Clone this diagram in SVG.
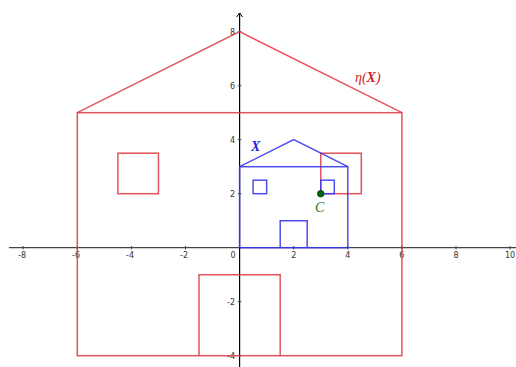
<svg xmlns="http://www.w3.org/2000/svg" width="516" height="367" viewBox="0 0 516 367">
<defs>
<style>
.ax{stroke:#000;stroke-width:1.2;fill:none}
.xax{stroke:#444;stroke-width:1.2;fill:none}
.tick{stroke:#444;stroke-width:1}
.tl{font-family:"DejaVu Sans",sans-serif;font-size:8px;fill:#333}
.red{stroke:#e0353f;stroke-opacity:0.85;stroke-width:1.5;fill:none}
.blue{stroke:#3a3aec;stroke-opacity:0.9;stroke-width:1.5;fill:none}
.lbl{font-family:"Liberation Serif",serif;font-style:italic;font-size:14px}
</style>
<marker id="arr" markerWidth="8" markerHeight="8" refX="4" refY="4" orient="auto" markerUnits="userSpaceOnUse">
<path d="M0,1 L4,4 L0,7" fill="none" stroke="#000" stroke-width="1"/>
</marker>
</defs>
<rect width="516" height="367" fill="#fff"/>
<g id="axes">
<line class="xax" x1="9" y1="247.7" x2="516" y2="247.7"/>
<line class="ax" x1="239.6" y1="367" x2="239.6" y2="13" marker-end="url(#arr)"/>
<g class="tick">
<line x1="23.2" y1="246" x2="23.2" y2="249.5"/>
<line x1="77.3" y1="246" x2="77.3" y2="249.5"/>
<line x1="131.4" y1="246" x2="131.4" y2="249.5"/>
<line x1="185.5" y1="246" x2="185.5" y2="249.5"/>
<line x1="293.7" y1="246" x2="293.7" y2="249.5"/>
<line x1="347.8" y1="246" x2="347.8" y2="249.5"/>
<line x1="401.9" y1="246" x2="401.9" y2="249.5"/>
<line x1="456" y1="246" x2="456" y2="249.5"/>
<line x1="510.1" y1="246" x2="510.1" y2="249.5"/>
<line x1="237.8" y1="31.7" x2="241.4" y2="31.7"/>
<line x1="237.8" y1="85.7" x2="241.4" y2="85.7"/>
<line x1="237.8" y1="139.7" x2="241.4" y2="139.7"/>
<line x1="237.8" y1="193.7" x2="241.4" y2="193.7"/>
<line x1="237.8" y1="301.7" x2="241.4" y2="301.7"/>
<line x1="237.8" y1="355.7" x2="241.4" y2="355.7"/>
</g>
<g class="tl" text-anchor="middle">
<text x="22" y="258">-8</text>
<text x="76" y="258">-6</text>
<text x="130" y="258">-4</text>
<text x="184" y="258">-2</text>
<text x="233" y="258">0</text>
<text x="293.7" y="258">2</text>
<text x="347.8" y="258">4</text>
<text x="401.9" y="258">6</text>
<text x="456" y="258">8</text>
<text x="510" y="258">10</text>
</g>
<g class="tl" text-anchor="end">
<text x="235" y="34.5">8</text>
<text x="235" y="88.5">6</text>
<text x="235" y="142.5">4</text>
<text x="235" y="196.5">2</text>
<text x="235" y="304.5">-2</text>
<text x="235" y="358.5">-4</text>
</g>
</g>
<g id="eta-house">
<path class="red" d="M77.3,112.7 L239.6,31.7 L401.9,112.7"/>
<rect class="red" x="77.3" y="112.7" width="324.6" height="243"/>
<rect class="red" x="117.9" y="153.2" width="40.55" height="40.5"/>
<rect class="red" x="320.75" y="153.2" width="40.55" height="40.5"/>
<path class="red" d="M199,355.7 L199,274.7 L280.2,274.7 L280.2,355.7"/>
</g>
<g id="x-house">
<path class="blue" d="M239.6,166.7 L293.7,139.7 L347.8,166.7"/>
<rect class="blue" x="239.6" y="166.7" width="108.2" height="81"/>
<rect class="blue" x="253.1" y="180.2" width="13.55" height="13.5"/>
<rect class="blue" x="320.75" y="180.2" width="13.55" height="13.5"/>
<path class="blue" d="M280.2,247.7 L280.2,220.7 L307.2,220.7 L307.2,247.7"/>
</g>
<g id="point-C">
<circle cx="320.75" cy="193.7" r="3.3" fill="#006400" stroke="#004d00" stroke-width="0.8"/>
<text class="lbl" x="315" y="212" fill="#1a7a1a">C</text>
</g>
<g id="labels">
<text class="lbl" x="251" y="151" fill="#2020e0" font-weight="bold">X</text>
<text class="lbl" x="355" y="82" fill="#d42020">η(<tspan font-weight="bold">X</tspan>)</text>
</g>
</svg>
